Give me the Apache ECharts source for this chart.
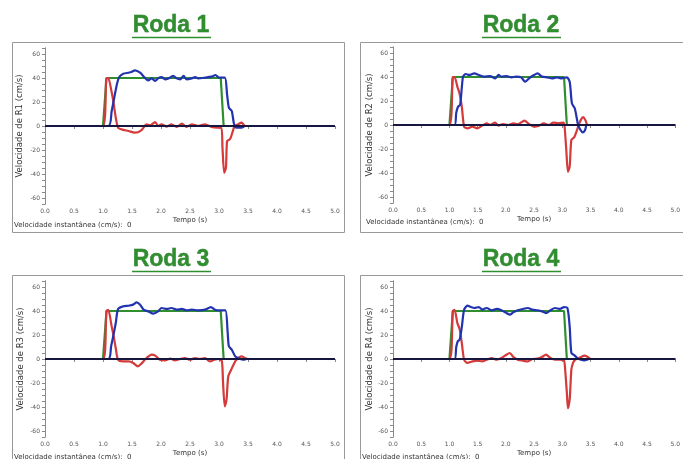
<!DOCTYPE html>
<html><head><meta charset="utf-8">
<script src="https://cdn.jsdelivr.net/npm/echarts@6/dist/echarts.min.js"></script>
<style>html,body{margin:0;padding:0;background:#fff}#c{width:683px;height:459px}</style>
</head><body><div id="c"></div>
<script>
// ---- data ----
const titles = ['Roda 1', 'Roda 2', 'Roda 3', 'Roda 4'];
const yNames = ['Velocidade de R1 (cm/s)', 'Velocidade de R2 (cm/s)', 'Velocidade de R3 (cm/s)', 'Velocidade de R4 (cm/s)'];
const xName = 'Tempo (s)';
const footText = 'Velocidade instantânea (cm/s):  0';
const yTickLabels = [-60, -40, -20, 0, 20, 40, 60];
const zeroLine = [[0, 0], [5, 0]];
const setpoint = [[0, 0], [1.0, 0], [1.06, 40], [3.03, 40], [3.08, 0], [5, 0]];

const blue1 = [[0,0],[1.09,0],[1.15,12.5],[1.18,20],[1.24,34.7],[1.28,40.8],[1.35,43.6],[1.44,44.4],[1.49,45],[1.55,46.4],[1.64,44.4],[1.72,40.3],[1.78,38],[1.84,39.7],[1.90,37.5],[1.95,39.7],[2.01,40.8],[2.07,38.9],[2.13,39.7],[2.21,41.7],[2.27,39.7],[2.33,38.9],[2.39,41.7],[2.44,38.9],[2.53,39.7],[2.59,40.8],[2.64,39.7],[2.76,40.3],[2.87,41.1],[2.94,42.5],[3.00,40.3],[3.10,40.3],[3.14,26],[3.17,15.3],[3.22,12.5],[3.26,1.4],[3.30,-1.4],[3.39,-1.4],[3.45,0],[5,0]];
const red1 = [[0,0],[1.0,0],[1.06,40],[1.09,40],[1.15,28],[1.18,20],[1.22,7],[1.26,-1.4],[1.32,-2.8],[1.44,-4.2],[1.55,-5.6],[1.66,-3.6],[1.75,1.4],[1.81,0.5],[1.90,3.3],[1.95,0],[2.01,1.4],[2.10,-0.5],[2.18,1.4],[2.27,-0.8],[2.36,2],[2.44,-0.8],[2.53,1.4],[2.64,0],[2.76,1.4],[2.87,-0.8],[2.96,-1.4],[3.04,-1.4],[3.06,-18],[3.09,-39],[3.12,-34.7],[3.14,-12.5],[3.19,-11],[3.23,-5.6],[3.27,0],[3.33,1.4],[3.39,2.8],[3.45,0],[5,0]];

const blue2 = [[0,0],[1.09,0],[1.12,10],[1.15,15],[1.19,17],[1.24,40.3],[1.29,42.5],[1.35,41.7],[1.44,43],[1.52,41.7],[1.61,40.3],[1.72,40.8],[1.81,38.9],[1.87,41.7],[1.92,40.3],[2.01,40.8],[2.10,39.7],[2.18,40.3],[2.27,39.7],[2.34,36.1],[2.41,38.9],[2.50,41.7],[2.56,43],[2.64,40.3],[2.73,39.7],[2.82,38.9],[2.90,39.7],[2.99,38.9],[3.08,39.7],[3.13,36],[3.17,18],[3.22,13.9],[3.28,0],[3.32,-4],[3.36,-6.2],[3.40,-4.5],[3.44,0],[5,0]];
const red2 = [[0,0],[1.0,0],[1.06,40],[1.09,40],[1.14,32],[1.18,26],[1.22,15],[1.26,-1.4],[1.32,-2.8],[1.41,-1.4],[1.49,-2.8],[1.58,-0.5],[1.66,1.4],[1.72,0],[1.81,2],[1.87,-0.5],[1.95,0.8],[2.04,0],[2.13,1.4],[2.21,0.5],[2.33,3.6],[2.41,0.8],[2.50,-1.4],[2.59,-0.5],[2.67,1.4],[2.76,0],[2.84,2],[2.93,1.4],[3.02,2],[3.04,-1.4],[3.07,-20.8],[3.10,-39],[3.13,-34.7],[3.16,-12.5],[3.21,-10.3],[3.25,-5.6],[3.29,0],[3.33,4.5],[3.37,6.5],[3.41,4],[3.45,0],[5,0]];

const blue3 = [[0,0],[1.09,0],[1.14,10.6],[1.18,20],[1.22,30],[1.26,41.7],[1.35,43.9],[1.44,44.4],[1.52,45.3],[1.58,47.2],[1.64,45.3],[1.70,41.1],[1.78,39.7],[1.87,37.8],[1.95,39.7],[2.01,42.5],[2.10,41.7],[2.18,42.5],[2.27,41.1],[2.36,41.7],[2.44,40.6],[2.53,41.1],[2.64,40.6],[2.76,41.1],[2.86,43.3],[2.93,41.1],[3.02,40.6],[3.11,40.6],[3.15,21.7],[3.17,10.6],[3.22,7.8],[3.28,2.2],[3.33,0.8],[3.42,-0.6],[3.48,0],[5,0]];
const red3 = [[0,0],[1.0,0],[1.06,40],[1.09,41],[1.15,27],[1.18,20],[1.22,9],[1.26,-0.6],[1.35,-2],[1.44,-2],[1.52,-3.3],[1.60,-6.1],[1.66,-3.9],[1.75,0.8],[1.84,3.6],[1.90,2.8],[1.98,-0.6],[2.07,-1.1],[2.16,0.3],[2.24,-1.1],[2.33,0],[2.41,0.8],[2.50,-0.6],[2.59,0.8],[2.67,0],[2.76,0.8],[2.84,-2],[2.92,-0.6],[3.00,0],[3.05,-2],[3.07,-20],[3.10,-39.4],[3.13,-33.9],[3.16,-14.4],[3.21,-8.9],[3.25,-4.7],[3.30,-0.6],[3.39,2.2],[3.45,0.8],[3.50,0],[5,0]];

const blue4 = [[0,0],[1.09,0],[1.12,10],[1.15,15],[1.18,16],[1.22,27],[1.26,41],[1.32,44.4],[1.38,43.3],[1.44,42.5],[1.52,43.3],[1.58,41.1],[1.66,42.5],[1.75,40.6],[1.84,41.7],[1.92,40.6],[2.01,38.3],[2.07,36.9],[2.13,38.9],[2.21,40.6],[2.30,41.7],[2.39,42.5],[2.47,41.1],[2.56,40.6],[2.64,39.7],[2.71,38.3],[2.79,40.6],[2.87,42.5],[2.96,41.7],[3.03,43.3],[3.09,42.5],[3.13,27],[3.16,5],[3.21,3.3],[3.27,0.6],[3.33,-0.6],[3.39,-1.1],[3.48,0],[5,0]];
const red4 = [[0,0],[1.0,0],[1.06,40],[1.09,41],[1.14,30],[1.18,25],[1.22,13],[1.26,-0.6],[1.32,-3.3],[1.41,-2],[1.49,-1.4],[1.58,-2],[1.66,-0.6],[1.75,0.8],[1.84,-0.6],[1.92,0.8],[2.01,3.6],[2.07,5],[2.13,1.7],[2.21,-0.6],[2.30,-1.4],[2.39,-2],[2.47,0],[2.56,0.3],[2.64,1.7],[2.71,3.6],[2.79,0.8],[2.87,-0.6],[2.96,-0.6],[3.03,-1.4],[3.05,-8.9],[3.08,-28],[3.10,-41],[3.13,-33.9],[3.16,-8.9],[3.19,-3.3],[3.23,-0.6],[3.33,1.7],[3.39,2.8],[3.45,1.7],[3.51,0],[5,0]];

const blues = [blue1, blue2, blue3, blue4];
const reds = [red1, red2, red3, red4];

// ---- layout ----
const grids = [
  {left: 45, top: 48, width: 290, height: 156},
  {left: 393, top: 47, width: 290, height: 156},
  {left: 45, top: 281, width: 290, height: 156},
  {left: 393, top: 281, width: 290, height: 156}
];
const yNameGaps = [21, 19, 20, 19];
const frames = [[12, 42, 332, 190], [360, 42, 340, 190], [12, 275, 332, 200], [360, 275, 340, 200]];
const titlePos = [[171, 26], [521, 26], [171, 260], [521, 260]];
const footPos = [[14, 225], [366, 222], [14, 457], [362, 457]];

const GREEN = '#2f8f2f', BLUE = '#2233b0', RED = '#d43a3a', ZERO = '#16163e';
const AX = '#8a8a8a', LBL = '#555';
const FONT = 'DejaVu Sans';

const xAxis = [], yAxis = [], series = [], graphic = [];
grids.forEach((g, i) => {
  xAxis.push({
    type: 'value', gridIndex: i, min: 0, max: 5, interval: 0.5, position: 'bottom',
    name: xName, nameLocation: 'middle', nameGap: 13,
    nameTextStyle: {fontFamily: FONT, fontSize: 7, color: '#333'},
    axisLine: {show: true, lineStyle: {color: AX, width: 1}},
    axisTick: {show: true, length: 3, lineStyle: {color: AX}},
    axisLabel: {fontFamily: FONT, fontSize: 6, color: LBL, margin: 4, formatter: v => v.toFixed(1)},
    splitLine: {show: false}
  });
  xAxis.push({
    type: 'value', gridIndex: i, min: 0, max: 5, interval: 0.5, position: 'top',
    axisLine: {show: true, lineStyle: {color: AX, width: 1}},
    axisTick: {show: true, inside: true, length: 3, lineStyle: {color: AX}},
    axisLabel: {show: false}, splitLine: {show: false}
  });
  yAxis.push({
    type: 'value', gridIndex: i, min: -65, max: 65, interval: 5, position: 'left',
    name: yNames[i], nameLocation: 'middle', nameGap: yNameGaps[i], nameRotate: 90,
    nameTextStyle: {fontFamily: FONT, fontSize: 8.5, color: '#333'},
    axisLine: {show: true, lineStyle: {color: AX, width: 1}},
    axisTick: {show: true, length: 3, lineStyle: {color: AX}},
    axisLabel: {fontFamily: FONT, fontSize: 6, color: LBL, margin: 5,
      formatter: v => yTickLabels.includes(v) ? String(v) : ''},
    splitLine: {show: false}
  });
  yAxis.push({
    type: 'value', gridIndex: i, min: -65, max: 65, interval: 5, position: 'right',
    axisLine: {show: true, lineStyle: {color: AX, width: 1}},
    axisTick: {show: true, inside: true, length: 2, lineStyle: {color: AX}},
    axisLabel: {show: false}, splitLine: {show: false}
  });
  const common = {type: 'line', xAxisIndex: 2 * i, yAxisIndex: 2 * i, symbol: 'none', silent: true, animation: false};
  series.push(Object.assign({}, common, {data: setpoint, lineStyle: {color: GREEN, width: 2.2}}));
  series.push(Object.assign({}, common, {data: reds[i], smooth: 0.25, lineStyle: {color: RED, width: 2.2}}));
  series.push(Object.assign({}, common, {data: blues[i], smooth: 0.25, lineStyle: {color: BLUE, width: 2.2}}));
  series.push(Object.assign({}, common, {data: zeroLine, lineStyle: {color: ZERO, width: 1.8}}));

  const f = frames[i];
  graphic.push({type: 'rect', shape: {x: f[0] + 0.5, y: f[1] + 0.5, width: f[2], height: f[3]},
    style: {fill: 'none', stroke: '#999', lineWidth: 1}, silent: true});
  const tp = titlePos[i];
  graphic.push({type: 'text', x: tp[0], y: tp[1],
    style: {text: titles[i], fill: GREEN, stroke: '#1f6a22', lineWidth: 0.4,
      font: 'bold 23px "Liberation Sans", Arial, sans-serif', align: 'center', verticalAlign: 'middle'}, silent: true});
  graphic.push({type: 'line', shape: {x1: tp[0] - 39, y1: tp[1] + 11.5, x2: tp[0] + 40, y2: tp[1] + 11.5},
    style: {stroke: GREEN, lineWidth: 1.6}, silent: true});
  const fp = footPos[i];
  graphic.push({type: 'text', x: fp[0], y: fp[1],
    style: {text: footText, fill: '#333', font: '7px "DejaVu Sans", sans-serif', align: 'left', verticalAlign: 'middle'}, silent: true});
});

const chart = echarts.init(document.getElementById('c'), null, {renderer: 'canvas'});
chart.setOption({
  animation: false,
  backgroundColor: '#fff',
  grid: grids.map(g => Object.assign({containLabel: false}, g)),
  xAxis, yAxis, series, graphic
});
</script></body></html>
